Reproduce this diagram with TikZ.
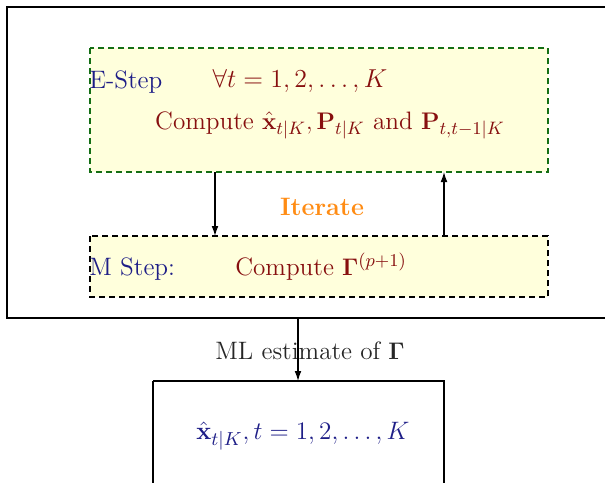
\documentclass[tikz,border=0pt]{standalone}
\usetikzlibrary{arrows.meta}
\definecolor{stepblue}{RGB}{30,30,135}
\definecolor{stepred}{RGB}{135,15,15}
\definecolor{stepgreen}{RGB}{20,110,20}
\definecolor{stepfill}{RGB}{255,255,220}
\definecolor{iterorange}{RGB}{255,140,20}
\begin{document}
\begin{tikzpicture}[x=0.5pt,y=-0.5pt,
  every node/.style={font=\fontsize{12.6}{15}\selectfont, inner sep=0pt},
  plainbox/.style={draw=black, line width=0.7pt},
  dbox/.style={fill=stepfill, line width=0.6pt, dash pattern=on 3pt off 2pt},
  arr/.style={draw=black, line width=0.6pt, -{Latex[length=5pt,width=3.4pt]}},
  lbl/.style={text=stepblue},
  rtxt/.style={text=stepred}]
\useasboundingbox (0,0) rectangle (605,482);
\clip (0,0) rectangle (605,482);
% outer box
\draw[plainbox] (7,7) rectangle (615,318);
% E-step box
\draw[dbox, draw=stepgreen] (90,48) rectangle (548,172);
\coordinate (ebot1) at (215,172);
\coordinate (ebot2) at (444,172);
% M-step box
\draw[dbox, draw=black] (90,236) rectangle (548,297);
\coordinate (mtop1) at (215,236);
\coordinate (mtop2) at (444,236);
% bottom box
\draw[plainbox] (153,381) -- (153,490) (153,381) -- (444,381) -- (444,490);
\coordinate (outtop) at (298,318);
\coordinate (resin) at (298,381);

\node[lbl, anchor=west] (estep) at (89,82) {E-Step};
\node[rtxt] (forall) at (300,81) {\scalebox{1.08}{$\forall t = 1,2,\ldots,K$}};
\node[rtxt] (ecomp) at (330,125) {Compute $\hat{\mathbf{x}}_{t|K},\mathbf{P}_{t|K}$ and $\mathbf{P}_{t,t-1|K}$};
\node[text=iterorange, font=\fontsize{12.6}{15}\selectfont\bfseries] (iter) at (322,207) {Iterate};
\node[lbl, anchor=west] (mstep) at (89,269) {M Step:};
\node[rtxt] (mcomp) at (321,267) {Compute $\mathbf{\Gamma}^{(p+1)}$};
\node[text=black!85] (ml) at (310,351) {ML estimate of $\mathbf{\Gamma}$};
\node[lbl] (res) at (303,436) {\scalebox{1.05}{$\hat{\mathbf{x}}_{t|K}, t = 1,2,\ldots,K$}};

\draw[arr] (ebot1) -- (mtop1);
\draw[arr] (mtop2) -- (ebot2);
\draw[arr] (outtop) -- (resin);
\end{tikzpicture}
\end{document}
